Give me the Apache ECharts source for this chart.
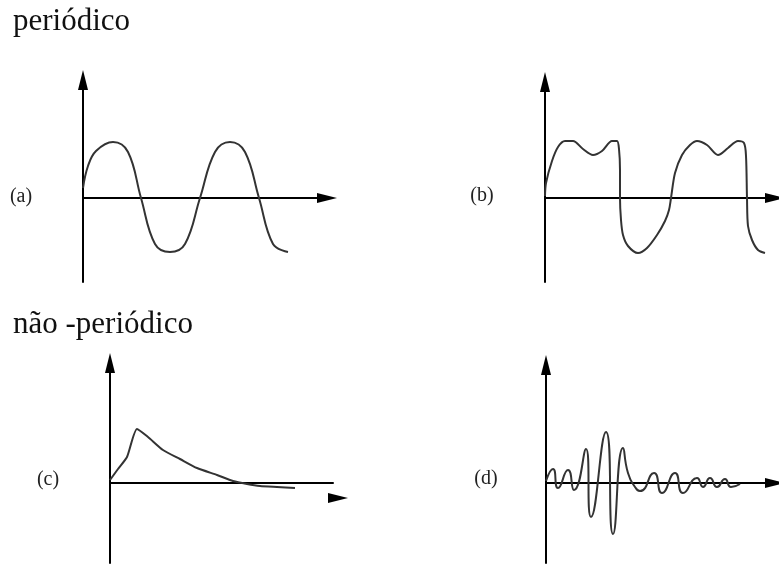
<!DOCTYPE html>
<html>
<head>
<meta charset="utf-8">
<script src="https://cdn.jsdelivr.net/npm/echarts@6/dist/echarts.min.js"></script>
<style>html,body{margin:0;padding:0;background:#fff}#c{width:779px;height:566px}</style>
</head>
<body>
<div id="c"></div>
<script>
// Panel titles and labels
const sectionTitles = ['periódico', 'não -periódico'];
const panelLabels = ['(a)', '(b)', '(c)', '(d)'];

// (a) periodic sinusoid: [t, amplitude]
const waveA = [[0,10],[5,32],[13,47],[30,56],[45,46],[58,0],[72,-46],[87,-54],[102,-46],[117,0],[132,46],[147,56],[162,46],[176,0],[190,-46],[205,-54]];

// (b) periodic non-sinusoidal
const waveB = [[0,2],[1,15],[7,37],[13,51],[20,57],[28,57],[38,49],[48,43],[57,47],[67,57],[72,57],[74,49],[75,28],[75,0],[76,-22],[78,-37],[83,-48],[93,-55],[102,-50],[112,-37],[120,-23],[124,-12],[126,0],[130,25],[137,43],[145,53],[152,57],[162,53],[173,43],[183,50],[193,57],[199,55],[201,42],[202,0],[203,-28],[207,-42],[213,-52],[220,-55]];

// (c) non-periodic pulse
const waveC = [[0,3],[8,14],[17,26],[27,54],[38,46],[53,33],[70,24],[87,15],[107,8],[123,2],[137,-1],[150,-3],[167,-4],[185,-5]];

// (d) non-periodic oscillation burst
const waveD = [[0,2],[7,14],[12,-5],[22,13],[28,-7],[40,34],[45,-34],[60,51],[67,-51],[77,35],[82,10],[89,-4],[94,-8],[108,10],[116,-10],[129,10],[137,-10],[151,5],[157,-4],[164,5],[171,-4],[179,4],[185,-4],[194,-1]];

// Axis ranges per panel: [xMax, yMin, yMax]
const axisRanges = [[244,-84,118],[230,-84,116],[223,-80,120],[229,-80,118]];

const grids = [
  {left:83, top:80, width:244, height:202},
  {left:545, top:82, width:230, height:200},
  {left:110, top:363, width:223, height:200},
  {left:546, top:365, width:229, height:198}
];
const xArrow = [true, true, false, true];
const waves = [waveA, waveB, waveC, waveD];
const smoothness = [0.4, 0.3, 0.2, 0.6];

const axisLineBase = (arrow) => ({
  show: true, onZero: true,
  symbol: arrow ? ['none','triangle'] : ['none','none'],
  symbolSize: [10,20],
  lineStyle: {color:'#000', width:2}
});

const chart = echarts.init(document.getElementById('c'), null, {renderer:'canvas'});
const option = {
  animation: false,
  backgroundColor: '#fff',
  grid: grids,
  xAxis: axisRanges.map((r,i) => ({
    type:'value', gridIndex:i, min:0, max:r[0],
    axisLine: axisLineBase(xArrow[i]),
    axisTick:{show:false}, axisLabel:{show:false}, splitLine:{show:false}
  })),
  yAxis: axisRanges.map((r,i) => ({
    type:'value', gridIndex:i, min:r[1], max:r[2],
    axisLine: axisLineBase(true),
    axisTick:{show:false}, axisLabel:{show:false}, splitLine:{show:false}
  })),
  series: waves.map((w,i) => ({
    type:'line', xAxisIndex:i, yAxisIndex:i, data:w,
    showSymbol:false, symbol:'none', smooth:smoothness[i],
    lineStyle:{color:'#333', width:2}
  })),
  graphic: [
    {type:'text', left:13, top:6, style:{text:sectionTitles[0], font:'31px "Liberation Serif"', fill:'#111'}},
    {type:'text', left:13, top:309, style:{text:sectionTitles[1], font:'31px "Liberation Serif"', fill:'#111'}},
    {type:'text', x:21, y:197, style:{text:panelLabels[0], font:'20px "Liberation Serif"', fill:'#222', align:'center', verticalAlign:'middle'}},
    {type:'text', x:482, y:196, style:{text:panelLabels[1], font:'20px "Liberation Serif"', fill:'#222', align:'center', verticalAlign:'middle'}},
    {type:'text', x:48, y:480, style:{text:panelLabels[2], font:'20px "Liberation Serif"', fill:'#222', align:'center', verticalAlign:'middle'}},
    {type:'text', x:486, y:479, style:{text:panelLabels[3], font:'20px "Liberation Serif"', fill:'#222', align:'center', verticalAlign:'middle'}},
    {type:'polygon', shape:{points:[[328,493],[348,498],[328,503]]}, style:{fill:'#000'}}
  ]
};
chart.setOption(option);
</script>
</body>
</html>
